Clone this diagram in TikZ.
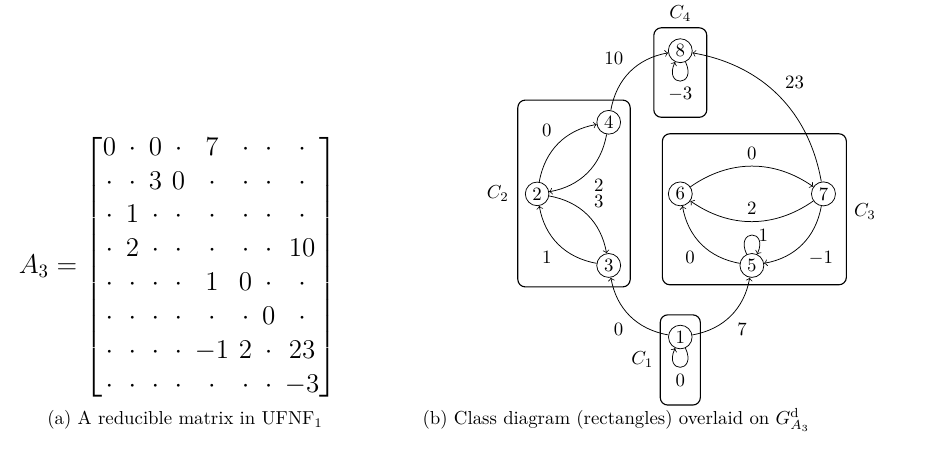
\documentclass[tikz,border=0pt]{standalone}
\usepackage{amsmath}
\tikzset{
  vtx/.style={circle,draw,inner sep=1.5pt},
  cls/.style={rounded corners=4pt,semithick},
  selfloop/.style={min distance=15pt},
}
\begin{document}
\begin{tikzpicture}
\useasboundingbox (0,0) rectangle (17.29,8.49);

\node[font=\Large] (mat) at (3.33,3.50) {\setlength{\arraycolsep}{2.6pt}\delimitershortfall=9pt%
$A_3 = \begin{bmatrix}
0 & \cdot & 0 & \cdot & 7 & \cdot & \cdot & \cdot\\
\cdot & \cdot & 3 & 0 & \cdot & \cdot & \cdot & \cdot\\
\cdot & 1 & \cdot & \cdot & \cdot & \cdot & \cdot & \cdot\\
\cdot & 2 & \cdot & \cdot & \cdot & \cdot & \cdot & 10\\
\cdot & \cdot & \cdot & \cdot & 1 & 0 & \cdot & \cdot\\
\cdot & \cdot & \cdot & \cdot & \cdot & \cdot & 0 & \cdot\\
\cdot & \cdot & \cdot & \cdot & -1 & 2 & \cdot & 23\\
\cdot & \cdot & \cdot & \cdot & \cdot & \cdot & \cdot & -3
\end{bmatrix}$};

\node[anchor=base] (capa) at (3.46,0.56) {(a) A reducible matrix in UFNF$_1$};
\node[anchor=base] (capb) at (11.52,0.56) {(b) Class diagram (rectangles) overlaid on $G^{\mathrm{d}}_{A_3}$};

\begin{scope}[shift={(10.04,2.19)},x=1.338cm,y=1.338cm]
\node[vtx] (v1) at (2,0) {1};
\node[vtx] (v2) at (0,2) {2};
\node[vtx] (v3) at (1,1) {3};
\node[vtx] (v4) at (1,3) {4};
\node[vtx] (v5) at (3,1) {5};
\node[vtx] (v6) at (2,2) {6};
\node[vtx] (v7) at (4,2) {7};
\node[vtx] (v8) at (2,4) {8};

%classes
\draw[cls] (1.72,-0.95) rectangle (2.28,0.31);
\node[] (c1) at (1.47,-0.32) {$C_1$};
\draw[cls] (-0.27,0.70) rectangle (1.30,3.31);
\node[] (c2) at (-0.55,2) {$C_2$};
\draw[cls] (1.75,0.73) rectangle (4.32,2.84);
\node[] (c3) at (4.58,1.75) {$C_3$};
\draw[cls] (1.63,3.07) rectangle (2.37,4.32);
\node[] (c4) at (2,4.52) {$C_4$};

\draw[->] (v1) to[bend left=35] node[auto] {0} (v3);
\draw[->] (v1) to[bend right=35] node[auto,swap] {7} (v5);
\draw[->] (v1) to[out=-65,in=-115,selfloop] node[below] {0} (v1);
\draw[->] (v2) to[bend left=35] node[auto] {0} (v4);
\draw[->] (v2) to[bend left=35] node[auto] {3} (v3);
\draw[->] (v3) to[bend left=35] node[auto] {1} (v2);
\draw[->] (v4) to[bend left=35] node[auto] {2} (v2);
\draw[->] (v4) to[bend left=35] node[auto] {10} (v8);
\draw[->] (v5) to[bend left=35] node[auto] {0} (v6);
\draw[->] (v5) to[out=115,in=65,selfloop] node[right] {1} (v5);
\draw[->] (v6) to[bend left=35] node[auto] {0} (v7);
\draw[->] (v7) to[bend left=35] node[auto,swap] {2} (v6);
\draw[->] (v7) to[bend left=35] node[auto] {$-1$} (v5);
\draw[->] (v7) to[bend right=35] node[auto,swap] {23} (v8);
\draw[->] (v8) to[out=-65,in=-115,selfloop] node[below] {$-3$} (v8);
\end{scope}
\end{tikzpicture}
\end{document}
